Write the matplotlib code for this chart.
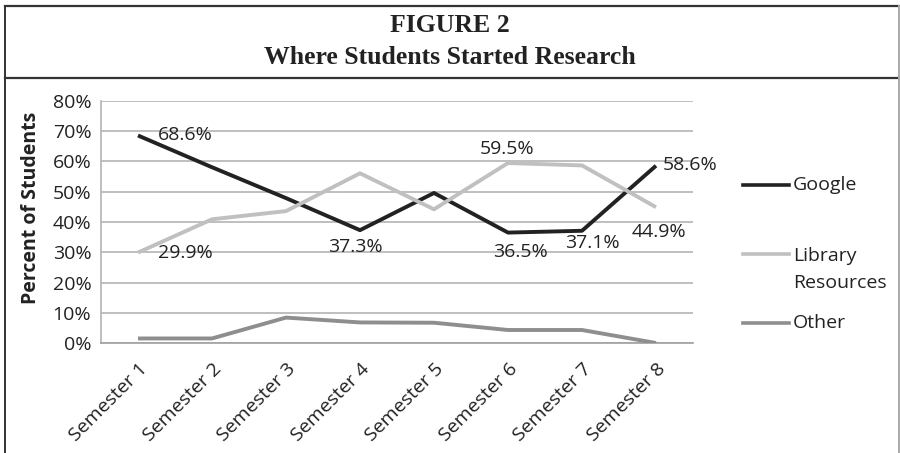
import matplotlib
matplotlib.use('Agg')
import matplotlib.pyplot as plt
from matplotlib.lines import Line2D
import numpy as np

plt.rcParams['font.family'] = ['Open Sans', 'DejaVu Sans']

# ###############
# Data (percent of students)
semesters = ['Semester 1', 'Semester 2', 'Semester 3', 'Semester 4',
             'Semester 5', 'Semester 6', 'Semester 7', 'Semester 8']
google = [68.6, 58.1, 47.9, 37.3, 49.6, 36.5, 37.1, 58.6]
library = [29.9, 40.9, 43.6, 56.1, 44.2, 59.5, 58.7, 44.9]
other = [1.5, 1.5, 8.4, 6.8, 6.7, 4.3, 4.3, 0.0]
yticks = [0, 10, 20, 30, 40, 50, 60, 70, 80]

series_names = ['Google', 'Library\nResources', 'Other']
series_vals = [google, library, other]
colors = ['#222222', '#c0c0c0', '#8e8e8e']

# which points get a value label: (series index, point index, dx px, dy px)
labels = [(0, 0, 47, 0), (1, 0, 47, 0), (0, 3, -5, -17), (1, 5, -1, 14),
          (0, 5, 12, -19), (0, 6, 10, -12), (1, 7, 3, -25), (0, 7, 34, 1)]


# ###############
# Figure
fig = plt.figure(figsize=(9, 4.53), dpi=100)
ax = fig.add_axes([101/900, 1-343/453, 592/900, 242/453])

x = np.arange(len(semesters))
for vals, c in zip(series_vals, colors):
    ax.plot(x, vals, color=c, lw=2.8, solid_capstyle='butt', zorder=3)

for si, pi, dx, dy in labels:
    v = series_vals[si][pi]
    ax.annotate(f'{v:.1f}%', (x[pi], v), xytext=(dx, dy), textcoords='offset pixels',
                ha='center', va='center', fontsize=14, color='#222222', zorder=4)

ax.set_xlim(-0.5, len(semesters) - 0.5)
ax.set_ylim(0, 80)
ax.set_yticks(yticks)
ax.set_yticklabels([f'{t}%' for t in yticks])
ax.set_xticks(x)
ax.set_xticklabels(semesters, rotation=45, ha='right', va='top', rotation_mode='anchor')
ax.tick_params(axis='both', length=0, labelsize=14, colors='#222222')
ax.tick_params(axis='y', pad=7)
ax.tick_params(axis='x', pad=12)

ax.grid(axis='y', color='#b4b4b4', lw=1.2, zorder=1)
for s in ['top', 'right']:
    ax.spines[s].set_visible(False)
ax.spines['left'].set_color('#b4b4b4')
ax.spines['bottom'].set_color('#a0a0a0')
ax.spines['left'].set_linewidth(1.2)
ax.spines['bottom'].set_linewidth(1.2)

ax.set_ylabel('Percent of Students', fontsize=14, fontweight='bold', color='#222222')
ax.yaxis.set_label_coords(-0.101, 0.56)

# legend (drawn by hand so the key sits on the first line of a two-line label)
leg_y = [0.653, 0.368, 0.0826]
for name, c, yy in zip(series_names, colors, leg_y):
    ax.plot([1.0845, 1.162], [yy, yy], color=c, lw=2.6, transform=ax.transAxes, clip_on=False)
    two = '\n' in name
    ax.text(1.169, yy + 0.028 if two else yy, name, transform=ax.transAxes, fontsize=14,
            color='#222222', va='top' if two else 'center', linespacing=1.62)

# title block and frame
fig.text(0.5, 1 - 25/453, 'FIGURE 2', ha='center', va='center', fontsize=18.5,
         fontweight='bold', family='Liberation Serif', color='#222222')
fig.text(0.5, 1 - 57/453, 'Where Students Started Research', ha='center', va='center',
         fontsize=18.5, fontweight='bold', family='Liberation Serif', color='#222222')
fig.add_artist(Line2D([5/900, 899/900], [1-6/453, 1-6/453], color='#333333', lw=1.6))
fig.add_artist(Line2D([5/900, 899/900], [1-78/453, 1-78/453], color='#333333', lw=1.6))
fig.add_artist(Line2D([5/900, 5/900], [0, 1-6/453], color='#333333', lw=1.4))
fig.add_artist(Line2D([899/900, 899/900], [0, 1-6/453], color='#aaaaaa', lw=1.4))

fig.savefig('out.png', dpi=100)
